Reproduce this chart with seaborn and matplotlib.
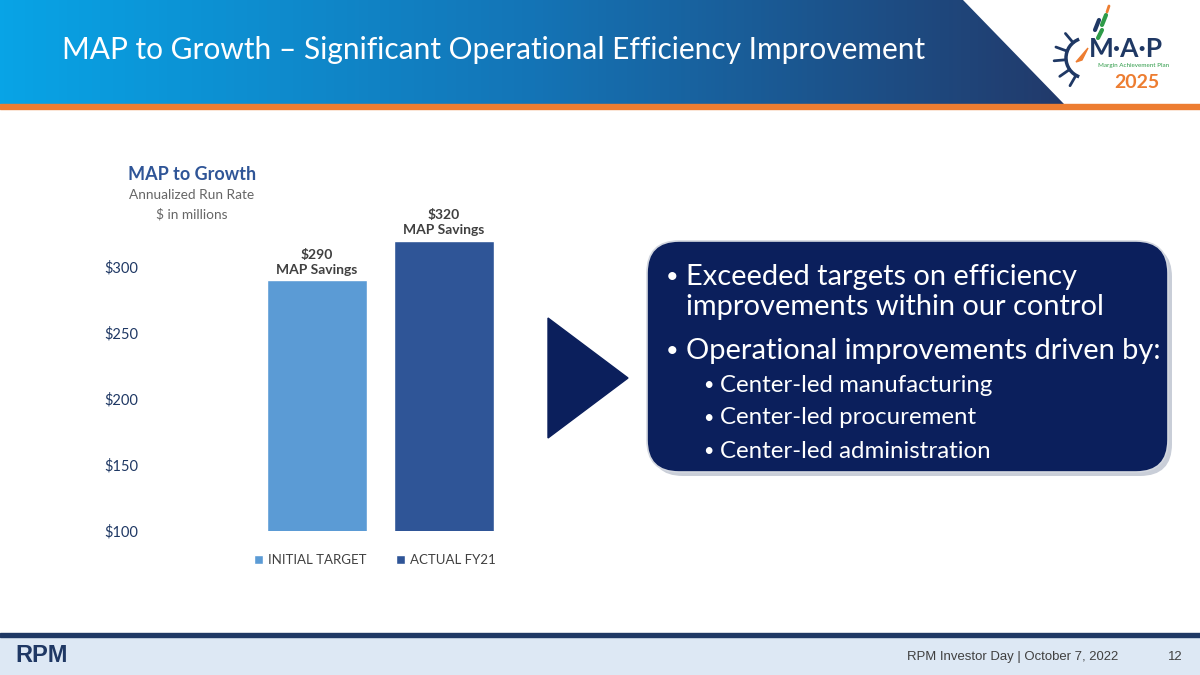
import numpy as np
import pandas as pd
import seaborn as sns
import matplotlib.pyplot as plt
from matplotlib.colors import LinearSegmentedColormap
from matplotlib.patches import Polygon, Rectangle, FancyBboxPatch, Patch, Arc

# datos del grafico
categorias = ["INITIAL TARGET", "ACTUAL FY21"]
ahorros = [290, 320]
etiquetas = ["$290\nMAP Savings", "$320\nMAP Savings"]
ticks_y = [100, 150, 200, 250, 300]
colores = ["#5b9bd5", "#2f5597"]

titulo = "MAP to Growth \u2013 Significant Operational Efficiency Improvement"
vinetas = ["Exceeded targets on efficiency", "improvements within our control",
           "Operational improvements driven by:"]
sub_vinetas = ["Center-led manufacturing", "Center-led procurement",
               "Center-led administration"]
pie = "RPM Investor Day | October 7, 2022"
pagina = "12"

sns.set_theme(style="white")
plt.rcParams['font.family'] = ['Lato', 'DejaVu Sans']

fig = plt.figure(figsize=(12, 6.75), dpi=100)


def ajustar(texto, ancho_px):
    # escala la fuente para que el texto ocupe el ancho pedido
    r = fig.canvas.get_renderer()
    w = texto.get_window_extent(renderer=r).width
    texto.set_fontsize(texto.get_fontsize() * ancho_px / w)
    return texto.get_fontsize()


# fondo en coordenadas de pixel
bg = fig.add_axes([0, 0, 1, 1], zorder=0)
bg.axis('off')

# cabecera con degradado
cmap = LinearSegmentedColormap.from_list('cab', ['#08a4e6', '#1474b6', '#22396a'])
grad = np.linspace(0, 1, 256).reshape(1, -1)
img = bg.imshow(grad, extent=[0, 1070, 104, 0], aspect='auto', cmap=cmap, zorder=1)
corte = Polygon([(0, 0), (963, 0), (1064, 104), (0, 104)], closed=True,
                transform=bg.transData, facecolor='none', edgecolor='none')
bg.add_patch(corte)
img.set_clip_path(corte)
bg.add_patch(Rectangle((0, 104), 1200, 5, color='#ed7d31', zorder=2))

t = bg.text(62, 50, titulo, color='white', fontsize=24, va='center', ha='left', zorder=3)
ajustar(t, 863)

# logo MAP 2025 (aproximado)
bg.add_patch(Arc((1086, 58), 40, 40, theta1=110, theta2=250, color='#1f3864', lw=2.5, zorder=3))
for ang in [130, 160, 185, 215, 240]:
    a = np.radians(ang)
    bg.plot([1086 + 20 * np.cos(a), 1086 + 32 * np.cos(a)],
            [58 - 20 * np.sin(a), 58 - 32 * np.sin(a)], color='#1f3864', lw=2, zorder=3)
bg.add_patch(Polygon([(1076, 62), (1088, 48), (1082, 60)], color='#ed7d31', zorder=3))
bg.plot([1095, 1099], [30, 20], color='#1f3864', lw=3, zorder=3)
bg.plot([1102, 1106], [25, 15], color='#2e9b48', lw=3, zorder=3)
bg.plot([1098, 1102], [38, 30], color='#2e9b48', lw=3, zorder=3)
bg.plot([1107, 1109], [12, 6], color='#ed7d31', lw=2, zorder=3)
bg.text(1126, 49, "M\u00b7A\u00b7P", color='#1f3864', fontsize=19, fontweight='bold',
        ha='center', va='center', zorder=3)
bg.text(1134, 66, "Margin Achievement Plan", color='#2e9b48', fontsize=4.5,
        ha='center', va='center', zorder=3)
bg.text(1137, 83, "2025", color='#ed7d31', fontsize=14, fontweight='bold',
        ha='center', va='center', zorder=3)

# titulo del grafico
bg.text(192, 174, "MAP to Growth", color='#2f5597', fontsize=13, fontweight='bold',
        ha='center', va='center')
bg.text(192, 195, "Annualized Run Rate", color='#666666', fontsize=9.8, ha='center', va='center')
bg.text(192, 214, "$ in millions", color='#666666', fontsize=9.8, ha='center', va='center')

# flecha y cuadro de texto
bg.add_patch(Polygon([(548, 318), (548, 438), (628, 378)], color='#0b1f5c'))
bg.add_patch(FancyBboxPatch((651, 245), 521, 231, boxstyle="round,pad=0,rounding_size=32",
                            facecolor='#c9ced8', edgecolor='none'))
bg.add_patch(FancyBboxPatch((647, 241), 521, 231, boxstyle="round,pad=0,rounding_size=32",
                            facecolor='#0b1f5c', edgecolor='#d4d8e0', lw=1.2))

ys_main = [277, 307, 351]
txt = bg.text(686, ys_main[2], vinetas[2], color='white', fontsize=18, va='center')
tam = ajustar(txt, 474)
bg.text(686, ys_main[0], vinetas[0], color='white', fontsize=tam, va='center')
bg.text(686, ys_main[1], vinetas[1], color='white', fontsize=tam, va='center')
for y in [ys_main[0], ys_main[2]]:
    bg.text(672, y, "\u2022", color='white', fontsize=tam * 0.75, ha='center', va='center')

ys_sub = [385, 418, 451]
txt = bg.text(720, ys_sub[0], sub_vinetas[0], color='white', fontsize=16, va='center')
tam2 = ajustar(txt, 273)
for y, s in zip(ys_sub[1:], sub_vinetas[1:]):
    bg.text(720, y, s, color='white', fontsize=tam2, va='center')
for y in ys_sub:
    bg.text(708, y, "\u2022", color='white', fontsize=tam2 * 0.75, ha='center', va='center')

# pie de pagina
bg.add_patch(Rectangle((0, 637), 1200, 38, color='#dde8f4'))
bg.add_patch(Rectangle((0, 633), 1200, 4, color='#1f3864'))
bg.text(42, 656, "RPM", color='#1f3864', fontsize=17, fontweight='bold',
        family=['Liberation Sans Narrow', 'Liberation Sans'], ha='center', va='center')
t = bg.text(1118, 657, pie, color='#404040', fontsize=9, family='Liberation Sans',
            ha='right', va='center')
ajustar(t, 213)
bg.text(1183, 657, pagina, color='#404040', fontsize=t.get_fontsize(), family='Liberation Sans',
        ha='right', va='center')

bg.set_xlim(0, 1200)
bg.set_ylim(675, 0)

# grafico de barras
ax = fig.add_axes([145 / 1200, (675 - 531) / 675, 375 / 1200, 330 / 675], zorder=1)
ax.patch.set_alpha(0)
df = pd.DataFrame({'categoria': categorias, 'ahorro': ahorros})
sns.barplot(data=df, x='categoria', y='ahorro', hue='categoria', palette=colores,
            width=0.787, saturation=1, legend=False, ax=ax)

for cont, lab in zip(ax.containers, etiquetas):
    ax.bar_label(cont, labels=[lab], padding=3, fontsize=10, fontweight='bold',
                 color='#404040', linespacing=1.35)

ax.set_xlim(-1.354, 1.598)
ax.set_ylim(100, 350)
ax.set_yticks(ticks_y)
ax.set_yticklabels([f"${v}" for v in ticks_y])
ax.set_xticks([])
ax.set_xlabel('')
ax.set_ylabel('')
ax.tick_params(axis='y', length=0, pad=5, labelsize=10.5, labelcolor='#1f3864')
sns.despine(ax=ax, left=True, bottom=True)

handles = [Patch(facecolor=c, label=k) for c, k in zip(colores, categorias)]
ax.legend(handles=handles, loc='center', bbox_to_anchor=(0.613, -0.088), ncol=2,
          frameon=False, fontsize=9.5, handlelength=0.7, handleheight=0.7,
          handletextpad=0.4, columnspacing=2.2, labelcolor='#404040')

fig.savefig("out.png", dpi=100)
